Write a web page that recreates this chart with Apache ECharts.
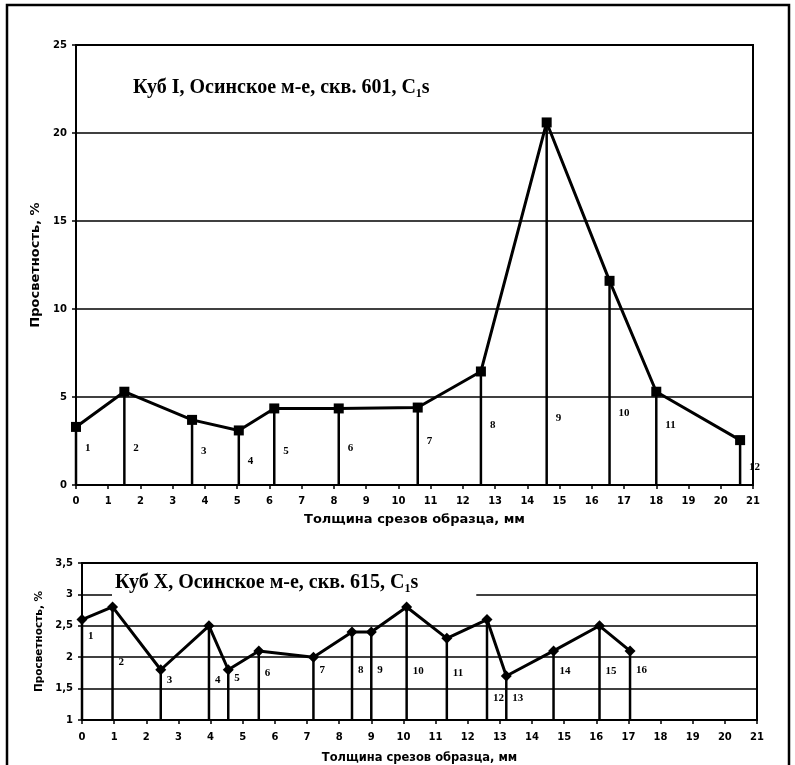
<!DOCTYPE html>
<html>
<head>
<meta charset="utf-8">
<script src="https://cdn.jsdelivr.net/npm/echarts@6/dist/echarts.min.js"></script>
<style>
  html, body { margin: 0; padding: 0; background: #fff; }
  #chart { width: 795px; height: 765px; }
</style>
</head>
<body>
<div id="chart"></div>
<script>
// Куб I, скв. 601
const topDepth = [0, 1.5, 3.6, 5.05, 6.15, 8.15, 10.6, 12.56, 14.6, 16.55, 18.0, 20.6];
const topValue = [3.3, 5.3, 3.7, 3.1, 4.35, 4.35, 4.4, 6.45, 20.6, 11.6, 5.3, 2.55];
const topLabelLevel = [2.1, 2.1, 1.9, 1.35, 1.9, 2.1, 2.5, 3.4, 3.8, 4.1, 3.4, 1.0];

// Куб X, скв. 615
const bottomDepth = [0, 0.95, 2.45, 3.95, 4.55, 5.5, 7.2, 8.4, 9.0, 10.1, 11.35, 12.6, 13.2, 14.67, 16.1, 17.05];
const bottomValue = [2.6, 2.8, 1.8, 2.5, 1.8, 2.1, 2.0, 2.4, 2.4, 2.8, 2.3, 2.6, 1.7, 2.1, 2.5, 2.1];
const bottomLabelLevel = [2.33, 1.92, 1.64, 1.64, 1.66, 1.75, 1.8, 1.8, 1.8, 1.77, 1.75, 1.34, 1.34, 1.77, 1.77, 1.79];

const xName = 'Толщина срезов образца, мм';
const yName = 'Просветность, %';

const chart = echarts.init(document.getElementById('chart'));

const tickFont = { color: '#000', fontFamily: 'DejaVu Sans', fontWeight: 'bold', fontSize: 10 };
const nameFont = { color: '#000', fontFamily: 'DejaVu Sans', fontWeight: 'bold' };

// vertical drop line from the axis to each point, plus the sample number beside it
const stemRenderer = (yMin, offset) => (params, api) => {
  const top = api.coord([api.value(0), api.value(1)]);
  const base = api.coord([api.value(0), yMin]);
  const lab = api.coord([api.value(0), api.value(2)]);
  return {
    type: 'group',
    children: [
      {
        type: 'line',
        shape: { x1: base[0], y1: base[1], x2: top[0], y2: top[1] },
        style: { stroke: '#000', lineWidth: 2.5 },
      },
      {
        type: 'text',
        x: lab[0] + offset,
        y: lab[1],
        style: {
          text: String(params.dataIndex + 1),
          fill: '#000',
          font: 'bold 11px "Liberation Serif"',
          align: 'left',
          verticalAlign: 'middle',
        },
      },
    ],
  };
};

const titleRich = {
  t: { fontFamily: 'Liberation Serif', fontWeight: 'bold', fontSize: 20, lineHeight: 24, color: '#000' },
  s: { fontFamily: 'Liberation Serif', fontWeight: 'bold', fontSize: 12, lineHeight: 12, verticalAlign: 'bottom', color: '#000' },
};

const commaFmt = (v) => String(v).replace('.', ',');

chart.setOption({
  animation: false,
  backgroundColor: '#fff',
  title: [
    {
      text: '{t|Куб I, Осинское м-е, скв. 601, C}{s|1}{t|s}',
      left: 133,
      top: 76,
      padding: 0,
      textStyle: { rich: titleRich },
    },
    {
      text: '{t|Куб X, Осинское м-е, скв. 615, C}{s|1}{t|s}',
      left: 112,
      top: 569,
      padding: [2, 58, 4, 3],
      backgroundColor: '#fff',
      textStyle: { rich: titleRich },
      z: 10,
    },
  ],
  graphic: [
    {
      type: 'rect',
      shape: { x: 7, y: 5, width: 782, height: 775 },
      style: { fill: 'none', stroke: '#000', lineWidth: 2.5 },
      z: 100,
    },
  ],
  grid: [
    { left: 76, top: 45, width: 677, height: 440, show: true, borderColor: '#000', borderWidth: 2 },
    { left: 82, top: 563, width: 675, height: 157, show: true, borderColor: '#000', borderWidth: 2 },
  ],
  xAxis: [
    {
      gridIndex: 0,
      type: 'value',
      min: 0,
      max: 21,
      interval: 1,
      name: xName,
      nameLocation: 'middle',
      nameGap: 28,
      nameTextStyle: { ...nameFont, fontSize: 13 },
      axisLine: { lineStyle: { color: '#000', width: 2 } },
      axisTick: { length: 4, lineStyle: { color: '#000', width: 1.5 } },
      axisLabel: { ...tickFont, margin: 11 },
      splitLine: { show: false },
    },
    {
      gridIndex: 1,
      type: 'value',
      min: 0,
      max: 21,
      interval: 1,
      name: xName,
      nameLocation: 'middle',
      nameGap: 32,
      nameTextStyle: { ...nameFont, fontSize: 11.5 },
      axisLine: { lineStyle: { color: '#000', width: 2 } },
      axisTick: { length: 4, lineStyle: { color: '#000', width: 1.5 } },
      axisLabel: { ...tickFont, margin: 12 },
      splitLine: { show: false },
    },
  ],
  yAxis: [
    {
      gridIndex: 0,
      type: 'value',
      min: 0,
      max: 25,
      interval: 5,
      name: yName,
      nameLocation: 'middle',
      nameGap: 30,
      nameTextStyle: { ...nameFont, fontSize: 13 },
      axisLine: { show: true, lineStyle: { color: '#000', width: 2 } },
      axisTick: { show: true, length: 4, lineStyle: { color: '#000', width: 1.5 } },
      axisLabel: { ...tickFont, margin: 9 },
      splitLine: { lineStyle: { color: '#000', width: 1.5 } },
    },
    {
      gridIndex: 1,
      type: 'value',
      min: 1,
      max: 3.5,
      interval: 0.5,
      name: yName,
      nameLocation: 'middle',
      nameGap: 33,
      nameTextStyle: { ...nameFont, fontSize: 10.5 },
      axisLine: { show: true, lineStyle: { color: '#000', width: 2 } },
      axisTick: { show: true, length: 4, lineStyle: { color: '#000', width: 1.5 } },
      axisLabel: { ...tickFont, margin: 9, formatter: commaFmt },
      splitLine: { lineStyle: { color: '#000', width: 1.5 } },
    },
  ],
  series: [
    {
      type: 'custom',
      xAxisIndex: 0,
      yAxisIndex: 0,
      renderItem: stemRenderer(0, 9),
      data: topDepth.map((d, i) => [d, topValue[i], topLabelLevel[i]]),
      z: 2,
    },
    {
      type: 'line',
      xAxisIndex: 0,
      yAxisIndex: 0,
      data: topDepth.map((d, i) => [d, topValue[i]]),
      symbol: 'rect',
      symbolSize: 10,
      itemStyle: { color: '#000' },
      lineStyle: { color: '#000', width: 3 },
      z: 3,
    },
    {
      type: 'custom',
      xAxisIndex: 1,
      yAxisIndex: 1,
      renderItem: stemRenderer(1, 6),
      data: bottomDepth.map((d, i) => [d, bottomValue[i], bottomLabelLevel[i]]),
      z: 2,
    },
    {
      type: 'line',
      xAxisIndex: 1,
      yAxisIndex: 1,
      data: bottomDepth.map((d, i) => [d, bottomValue[i]]),
      symbol: 'diamond',
      symbolSize: 11,
      itemStyle: { color: '#000' },
      lineStyle: { color: '#000', width: 3 },
      z: 3,
    },
  ],
});
</script>
</body>
</html>
